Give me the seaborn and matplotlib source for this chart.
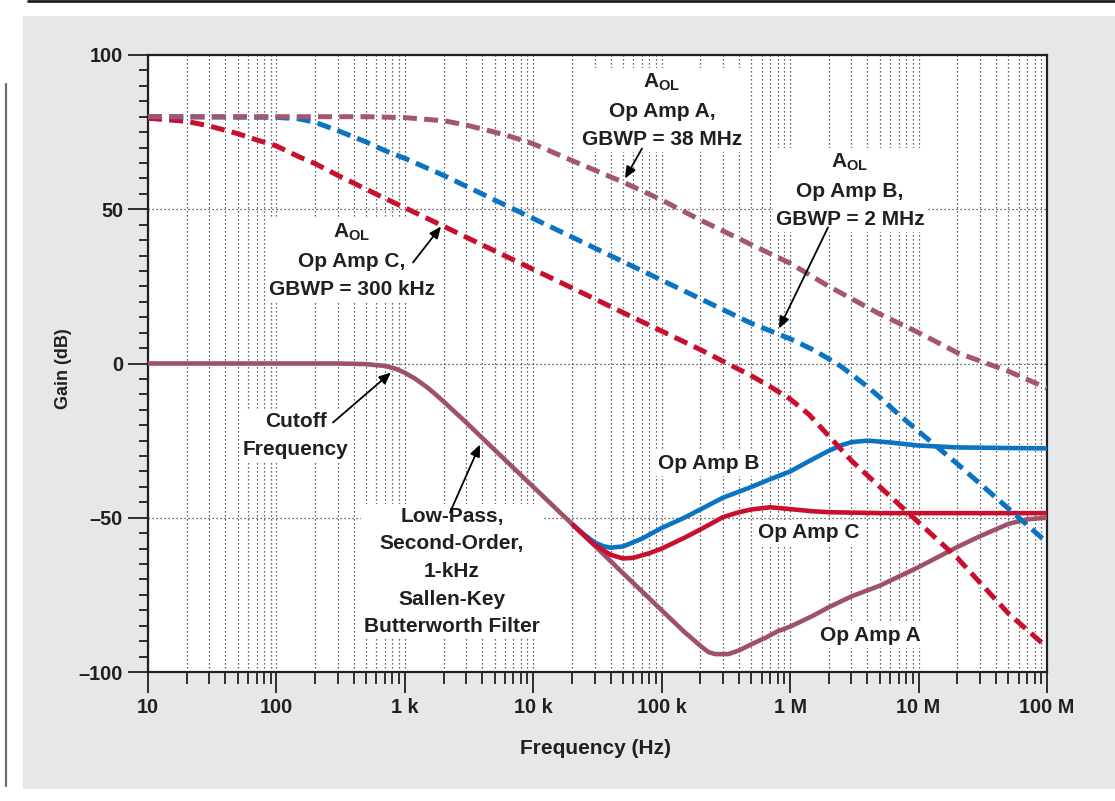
import numpy as np
import pandas as pd
import matplotlib
matplotlib.use("Agg")
import matplotlib.pyplot as plt
import seaborn as sns
from matplotlib.ticker import FixedLocator, FixedFormatter, MultipleLocator, NullFormatter
from matplotlib.patches import Rectangle
from matplotlib.lines import Line2D

# ---------------- data ----------------
# Closed-loop filter response, Op Amp A (mauve solid)
freq_cl_a = [10, 100, 300, 500, 700, 850, 1e3, 1.2e3, 1.5e3, 1.7e3, 2e3, 3e3, 5e3, 10e3,
             20e3, 30e3, 50e3, 100e3, 150e3, 200e3, 230e3, 260e3, 330e3, 400e3, 500e3,
             650e3, 800e3, 1e6, 1.5e6, 2e6, 3e6, 5e6, 10e6, 20e6, 30e6, 50e6, 70e6, 100e6]
gain_cl_a = [0, 0, 0, -0.2, -0.8, -1.7, -3, -4.9, -7.8, -9.7, -12.3, -19.1, -28, -40,
             -52, -59, -68, -80, -87, -91.5, -93.5, -94.2, -94.2, -93, -91,
             -88.8, -86.8, -85.3, -81.8, -79, -75.5, -72, -66, -59.5, -56, -52, -50.5, -50]

# Closed-loop, Op Amp B (blue solid)
freq_cl_b = [20e3, 25e3, 30e3, 35e3, 40e3, 50e3, 70e3, 100e3, 150e3, 200e3, 300e3, 500e3,
             700e3, 1e6, 1.5e6, 2e6, 2.5e6, 3e6, 4e6, 6e6, 10e6, 20e6, 50e6, 100e6]
gain_cl_b = [-52, -55.5, -58, -59.2, -59.7, -59.3, -56.8, -53.3, -50, -47.3, -43.5, -40,
             -37.5, -35, -31, -28.3, -26.5, -25.5, -25, -25.6, -26.6, -27.2, -27.4, -27.5]

# Closed-loop, Op Amp C (red solid)
freq_cl_c = [20e3, 25e3, 30e3, 40e3, 50e3, 60e3, 80e3, 100e3, 150e3, 200e3, 300e3, 400e3,
             500e3, 700e3, 1e6, 1.5e6, 2e6, 5e6, 100e6]
gain_cl_c = [-52, -55.8, -58.8, -62, -63.2, -63, -61.5, -60, -56.5, -53.8, -49.8, -48.2,
             -47.3, -46.6, -47.2, -47.9, -48.2, -48.5, -48.5]

# Open-loop gain, Op Amp A (mauve dashed)
freq_ol_a = [10, 100, 500, 1e3, 2e3, 3e3, 5e3, 7e3, 10e3, 20e3, 50e3, 100e3, 200e3, 500e3,
             1e6, 2e6, 5e6, 10e6, 20e6, 50e6, 100e6]
gain_ol_a = [80, 80, 80, 79.7, 78.7, 77.3, 75, 73.3, 71.2, 65.8, 58.8, 53, 46.5, 38.5,
             32.5, 25, 16, 10, 3.5, -2.5, -8]

# Open-loop gain, Op Amp B (blue dashed)
freq_ol_b = [10, 100, 150, 200, 300, 500, 700, 1e3, 2e3, 5e3, 10e3, 20e3, 50e3, 100e3,
             200e3, 500e3, 1e6, 1.5e6, 2e6, 2.5e6, 3e6, 4e6, 5e6, 7e6, 10e6, 20e6, 50e6, 100e6]
gain_ol_b = [80, 79.8, 79.3, 78.2, 75.5, 71.8, 69, 66.5, 61, 53, 47, 41, 33, 27,
             21, 13, 8, 4.5, 1.5, -1, -3.5, -7.5, -11, -16.5, -22, -32.5, -47, -58]

# Open-loop gain, Op Amp C (red dashed)
freq_ol_c = [10, 20, 30, 50, 70, 100, 150, 200, 300, 500, 700, 1e3, 2e3, 5e3, 10e3, 20e3,
             50e3, 100e3, 200e3, 500e3, 700e3, 1e6, 1.4e6, 2e6, 3e6, 5e6, 10e6, 20e6, 50e6, 100e6]
gain_ol_c = [79.5, 78.5, 77, 74.5, 72.5, 70.5, 67, 64.8, 61, 56.5, 53.5, 50.5, 44.5, 36.5,
             30.5, 24.5, 16.5, 10.5, 4.5, -4, -7.5, -11.5, -16.5, -23.5, -31.5, -40, -51.5,
             -63, -81, -92]

x_ticks = [10, 100, 1e3, 1e4, 1e5, 1e6, 1e7, 1e8]
x_tick_labels = ["10", "100", "1 k", "10 k", "100 k", "1 M", "10 M", "100 M"]
y_ticks = [-100, -50, 0, 50, 100]
y_tick_labels = ["\u2013100", "\u201350", "0", "50", "100"]

# ---------------- style ----------------
MAUVE = "#a3566f"
MAUVE_SOLID = "#9e5269"
RED = "#c8102e"
BLUE = "#0a74c2"
INK = "#231f20"

sns.set_style("white")
plt.rcParams.update({
    "font.family": ["Liberation Sans", "DejaVu Sans"],
    "font.weight": "bold",
    "mathtext.fontset": "custom",
    "mathtext.rm": "Liberation Sans:bold",
    "mathtext.it": "Liberation Sans:bold",
    "mathtext.bf": "Liberation Sans:bold",
    "mathtext.default": "rm",
    "text.color": INK,
    "axes.labelcolor": INK,
    "xtick.color": INK,
    "ytick.color": INK,
})

fig = plt.figure(figsize=(11.15, 8.01), dpi=100)
fig.patch.set_facecolor("white")
W, H = 1115.0, 801.0
fig.patches.append(Rectangle((23 / W, 1 - 789 / H), (1115 - 23) / W, (789 - 16) / H,
                             transform=fig.transFigure, facecolor="#e6e7e8",
                             edgecolor="none", zorder=-10))
fig.lines.append(Line2D([28 / W, 1.0], [1 - 1 / H, 1 - 1 / H], transform=fig.transFigure,
                        color="#231f20", lw=2.0, zorder=-5))
fig.lines.append(Line2D([6 / W, 6 / W], [1 - 84 / H, 1 - 786 / H], transform=fig.transFigure,
                        color="#6d6e70", lw=1.6, zorder=-5))

ax = fig.add_axes([148 / W, 1 - 672 / H, (1047 - 148) / W, (672 - 55) / H])
ax.set_zorder(1)
ax.set_facecolor("white")
ax.set_xscale("log")

def draw(freq, gain, color, lw, dashed, z):
    df = pd.DataFrame({"Frequency": freq, "Gain": gain})
    kw = dict(linestyle=(0, (2.8, 1.45))) if dashed else dict(solid_capstyle="butt")
    sns.lineplot(data=df, x="Frequency", y="Gain", ax=ax, color=color, lw=lw,
                 estimator=None, sort=False, legend=False, zorder=z, **kw)

draw(freq_cl_a, gain_cl_a, MAUVE_SOLID, 3.3, False, 3)
draw(freq_cl_c, gain_cl_c, RED, 3.3, False, 3.2)
draw(freq_cl_b, gain_cl_b, BLUE, 3.3, False, 3.1)
draw(freq_ol_c, gain_ol_c, RED, 3.6, True, 4.0)
draw(freq_ol_b, gain_ol_b, BLUE, 3.6, True, 4.1)
draw(freq_ol_a, gain_ol_a, MAUVE, 3.6, True, 4.2)

ax.set_xlim(10, 1e8)
ax.set_ylim(-100, 100)
ax.xaxis.set_major_locator(FixedLocator(x_ticks))
ax.xaxis.set_major_formatter(FixedFormatter(x_tick_labels))
minor_x = [m * 10 ** e for e in range(1, 8) for m in range(2, 10)]
ax.xaxis.set_minor_locator(FixedLocator(minor_x))
ax.xaxis.set_minor_formatter(NullFormatter())
ax.yaxis.set_major_locator(FixedLocator(y_ticks))
ax.yaxis.set_major_formatter(FixedFormatter(y_tick_labels))
ax.yaxis.set_minor_locator(MultipleLocator(5))

ax.tick_params(which="both", bottom=True, left=True, top=False, right=False)
ax.tick_params(axis="x", which="major", direction="out", length=15, width=1.3, pad=3.5,
               labelsize=14.3)
ax.tick_params(axis="x", which="minor", direction="out", length=8.6, width=1.3)
ax.tick_params(axis="y", which="major", direction="out", length=14.5, width=1.3, pad=3.5,
               labelsize=14.3)
ax.tick_params(axis="y", which="minor", direction="out", length=6.5, width=1.3)
for lab in ax.get_xticklabels() + ax.get_yticklabels():
    lab.set_fontweight("bold")

ax.set_axisbelow(True)
ax.grid(which="major", axis="both", color="#333333", lw=0.9, linestyle=(0, (1, 2.2)))
ax.grid(which="minor", axis="x", color="#333333", lw=0.9, linestyle=(0, (1, 2.2)))
for s in ax.spines.values():
    s.set_linewidth(1.6)
    s.set_color(INK)

ax.set_xlabel("Frequency (Hz)", fontsize=15, fontweight="bold", va="center")
ax.xaxis.set_label_coords((596 - 148) / 899, (672 - 748) / 617)
ax.set_ylabel("Gain (dB)", fontsize=13, fontweight="bold", va="center", ha="center")
ax.yaxis.set_label_coords((63 - 148) / 899, (672 - 369) / 617)

# ---------------- annotations ----------------
def px2data(px, py):
    return 10 ** (1 + (px - 148) / 128.43), (363 - py) / 3.085

box = dict(facecolor="white", edgecolor="none", pad=2)
def label(px, py, s, ls=1.58):
    x, y = px2data(px, py)
    ax.text(x, y, s, ha="center", va="center", multialignment="center", fontsize=15,
            fontweight="bold", linespacing=ls, bbox=box, zorder=2)

def arrow(tail, tip):
    ax.annotate("", xy=px2data(*tip), xytext=px2data(*tail),
                arrowprops=dict(arrowstyle="-|>,head_length=0.7,head_width=0.3",
                                color="black", lw=1.3, shrinkA=0, shrinkB=0), zorder=6)

label(662, 110, "$A_{OL}$\nOp Amp A,\nGBWP = 38 MHz")
arrow((642, 148), (625, 178))
label(850, 190, "$A_{OL}$\nOp Amp B,\nGBWP = 2 MHz")
arrow((828, 227), (779, 328))
label(352, 260, "$A_{OL}$\nOp Amp C,\nGBWP = 300 kHz")
arrow((413, 262), (441, 226))
label(296, 435, "Cutoff\nFrequency")
arrow((333, 422), (391, 372))
label(452, 571, "Low-Pass,\nSecond-Order,\n1-kHz\nSallen-Key\nButterworth Filter")
arrow((450, 512), (480, 444))
label(709, 463, "Op Amp B")
label(809, 532, "Op Amp C")
label(870, 635, "Op Amp A")

fig.savefig("out.png", dpi=100, facecolor=fig.get_facecolor())
